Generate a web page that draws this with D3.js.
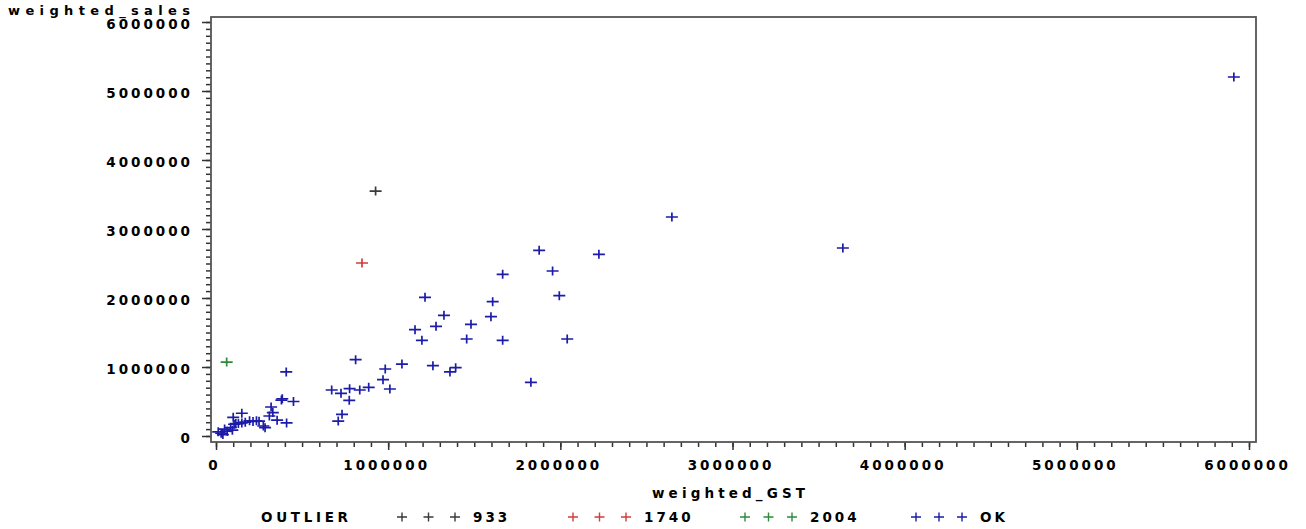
<!DOCTYPE html>
<html>
<head>
<meta charset="utf-8">
<script src="https://cdn.jsdelivr.net/npm/d3@7"></script>
<style>
  body { margin: 0; background: #fff; }
  text { font-family: "DejaVu Sans", sans-serif; font-weight: bold; font-size: 13.5px; letter-spacing: 3px; fill: #000; }
</style>
</head>
<body>
<div class="container"></div>
<script>
// values (in units, GST on x, sales on y)
const groups = ["933", "1740", "2004", "OK"];
const gst_933 = [927000];
const sales_933 = [3550000];
const gst_1740 = [848000];
const sales_1740 = [2507000];
const gst_2004 = [62000];
const sales_2004 = [1072000];
const gst_ok = [13000, 30000, 40000, 50000, 65000, 85000, 95000, 100000, 105000, 115000, 130000, 150000, 150000,
  170000, 195000, 215000, 235000, 250000, 275000, 285000, 310000, 320000, 330000, 355000, 380000, 385000, 410000,
  408000, 450000, 672000, 710000, 726000, 732000, 774000, 776000, 811000, 835000, 887000, 970000, 983000, 1010000,
  1080000, 1156000, 1196000, 1214000, 1260000, 1278000, 1324000, 1359000, 1392000, 1456000, 1481000, 1597000,
  1607000, 1665000, 1665000, 1829000, 1877000, 1955000, 1994000, 2040000, 2224000, 2648000, 3641000, 5912000];
const sales_ok = [60000, 40000, 20000, 100000, 70000, 120000, 85000, 270000, 170000, 180000, 180000, 330000, 190000,
  200000, 220000, 210000, 220000, 215000, 145000, 120000, 290000, 420000, 340000, 230000, 520000, 540000, 190000,
  928000, 500000, 667000, 217000, 619000, 314000, 517000, 686000, 1106000, 667000, 706000, 816000, 971000, 681000,
  1043000, 1541000, 1387000, 2010000, 1019000, 1590000, 1749000, 928000, 990000, 1406000, 1619000, 1729000,
  1947000, 2343000, 1387000, 778000, 2691000, 2391000, 2034000, 1406000, 2633000, 3174000, 2725000, 5203000];
const xTicks = [0, 1000000, 2000000, 3000000, 4000000, 5000000, 6000000];
const yTicks = [0, 1000000, 2000000, 3000000, 4000000, 5000000, 6000000];

const colors = { "933": "#3a3a3a", "1740": "#d23c3c", "2004": "#2f8a3a", "OK": "#1c1ca8" };
const series = [
  { key: "933", gst: gst_933, sales: sales_933 },
  { key: "1740", gst: gst_1740, sales: sales_1740 },
  { key: "2004", gst: gst_2004, sales: sales_2004 },
  { key: "OK", gst: gst_ok, sales: sales_ok }
];

const width = 1306, height = 529;
const frame = { left: 211, top: 17, right: 1256, bottom: 442 };

let svg = d3.select(".container")
  .append("svg")
  .attr("width", width)
  .attr("height", height);

let x = d3.scaleLinear().domain([0, 6000000]).range([frame.left + 5, frame.right - 7]);
let y = d3.scaleLinear().domain([0, 6000000]).range([frame.bottom - 6, frame.top + 5]);

let minor = d3.range(0, 6000001, 100000);

// minor ticks
svg.append("g")
  .attr("transform", `translate(${frame.left},0)`)
  .call(d3.axisLeft(y).tickValues(minor).tickSize(5).tickFormat(""))
  .call(g => g.select(".domain").remove());
svg.append("g")
  .attr("transform", `translate(0,${frame.bottom})`)
  .call(d3.axisBottom(x).tickValues(minor).tickSize(5).tickFormat(""))
  .call(g => g.select(".domain").remove());

// major ticks with labels
svg.append("g")
  .attr("transform", `translate(${frame.left},0)`)
  .call(d3.axisLeft(y).tickValues(yTicks).tickSize(9).tickPadding(9).tickFormat(d => d))
  .call(g => g.select(".domain").remove())
  .call(g => g.selectAll("text").attr("dy", "0.5em"));
svg.append("g")
  .attr("transform", `translate(0,${frame.bottom})`)
  .call(d3.axisBottom(x).tickValues(xTicks).tickSize(8).tickPadding(0).tickFormat(d => d))
  .call(g => g.select(".domain").remove())
  .call(g => g.selectAll("text").attr("y", 28).attr("dy", 0).attr("dx", "-2"));

svg.selectAll(".tick line").attr("stroke", "#333").attr("stroke-width", 1.5);

// frame
svg.append("rect")
  .attr("x", frame.left)
  .attr("y", frame.top)
  .attr("width", frame.right - frame.left)
  .attr("height", frame.bottom - frame.top)
  .attr("fill", "none")
  .attr("stroke", "#555")
  .attr("stroke-width", 1.8);

// axis titles
svg.append("text")
  .attr("x", 8)
  .attr("y", 15)
  .style("font-size", "13px")
  .attr("textLength", 185)
  .attr("lengthAdjust", "spacing")
  .text("weighted_sales");
svg.append("text")
  .attr("x", 652)
  .attr("y", 498)
  .attr("textLength", 156)
  .attr("lengthAdjust", "spacing")
  .text("weighted_GST");

// points
const plus = "M-6,0H6M0,-4.5V4.5";
series.forEach(s => {
  svg.append("g")
    .selectAll("path")
    .data(s.gst.map((g, i) => [g, s.sales[i]]))
    .enter().append("path")
    .attr("d", plus)
    .attr("transform", d => `translate(${x(d[0])},${y(d[1])})`)
    .attr("fill", "none")
    .attr("stroke", colors[s.key])
    .attr("stroke-width", 1.7);
});

// legend
let legend = svg.append("g").attr("id", "legend");
legend.append("text").attr("x", 261).attr("y", 522).attr("textLength", 90).attr("lengthAdjust", "spacing").text("OUTLIER");
const legendX = [402, 573, 745, 916];
const legendGap = [26.5, 26.5, 23.5, 23];
groups.forEach((gname, i) => {
  let row = legend.append("g");
  [0, 1, 2].forEach(k => {
    row.append("path")
      .attr("d", "M-5,0H5M0,-4.5V4.5")
      .attr("transform", `translate(${legendX[i] + k * legendGap[i]},517)`)
      .attr("fill", "none")
      .attr("stroke", colors[gname])
      .attr("stroke-width", 1.4);
  });
  row.append("text")
    .attr("x", legendX[i] + 2 * legendGap[i] + 18)
    .attr("y", 522)
    .text(gname);
});
</script>
</body>
</html>
